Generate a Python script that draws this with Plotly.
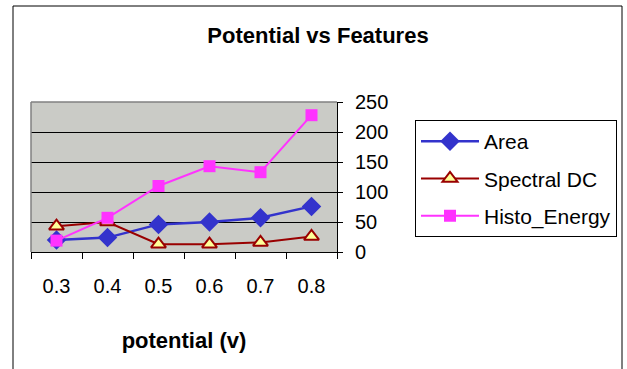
import plotly.graph_objects as go

categories = ["0.3", "0.4", "0.5", "0.6", "0.7", "0.8"]
area = [20, 24, 46, 50, 57, 76]
spectral_dc = [43, 50, 13, 13, 16, 26]
histo_energy = [19, 57, 110, 143, 133, 228]
y_ticks = [0, 50, 100, 150, 200, 250]

W, H = 627, 369
L, R, T, B = 31, 337, 102, 252
pw, ph = R - L, B - T

def px(x):
    return (x - L) / pw

def py(y):
    return (B - y) / ph

FONT = "Liberation Sans, Arial, sans-serif"

fig = go.Figure()
fig.add_trace(go.Scatter(
    x=categories, y=area, name="Area", mode="lines+markers", legendgroup="a",
    line=dict(color="#3333CC", width=2.5),
    marker=dict(symbol="diamond", size=15, color="#3333CC")))
fig.add_trace(go.Scatter(
    x=categories, y=spectral_dc, name="Spectral DC", mode="lines+markers", legendgroup="b",
    line=dict(color="#990000", width=2),
    marker=dict(symbol="triangle-up", size=13, color="#FFFF99",
                line=dict(color="#990000", width=2))))
fig.add_trace(go.Scatter(
    x=categories, y=histo_energy, name="Histo_Energy", mode="lines+markers", legendgroup="c",
    line=dict(color="#FF33FF", width=2),
    marker=dict(symbol="square", size=12, color="#FF33FF")))

fig.update_layout(
    width=W, height=H,
    margin=dict(l=L, r=W - R, t=T, b=H - B, autoexpand=False),
    paper_bgcolor="white",
    plot_bgcolor="#CACBC6",
    font=dict(family=FONT, color="black", size=20),
    title=dict(text="<b>Potential vs Features</b>", x=318 / W, xanchor="center",
               y=1 - 35 / H, yanchor="middle", yref="container",
               font=dict(size=22, family=FONT)),
    showlegend=True,
    legend=dict(x=px(415), xanchor="left", y=py(120), yanchor="top",
                bordercolor="black", borderwidth=1, bgcolor="white",
                traceorder="grouped", tracegroupgap=7, itemwidth=58,
                font=dict(size=21, family=FONT)),
    xaxis=dict(type="category", range=[-0.5, 5.5], showgrid=False,
               showline=True, linecolor="black", linewidth=1,
               ticks="outside", tickson="boundaries", ticklen=6, tickcolor="black",
               ticklabelstandoff=16, tickfont=dict(size=20),
               title=dict(text="<b>potential (v)</b>", standoff=36,
                          font=dict(size=22)),
               fixedrange=True),
    yaxis=dict(side="right", range=[0, 250], tickvals=y_ticks,
               showgrid=True, gridcolor="black", gridwidth=1,
               showline=True, linecolor="black", linewidth=1,
               ticks="outside", ticklen=5, tickcolor="black",
               ticklabelstandoff=8, tickfont=dict(size=20),
               zeroline=False, fixedrange=True),
    shapes=[
        dict(type="rect", xref="paper", yref="paper", x0=px(13), x1=px(622),
             y0=py(6), y1=py(380), line=dict(color="black", width=1)),
        dict(type="line", xref="paper", yref="paper", x0=0, x1=1, y0=1, y1=1,
             line=dict(color="#808080", width=1.5)),
        dict(type="line", xref="paper", yref="paper", x0=0, x1=0, y0=0, y1=1,
             line=dict(color="#808080", width=1.5)),
    ],
)

fig.write_html("out.html")
